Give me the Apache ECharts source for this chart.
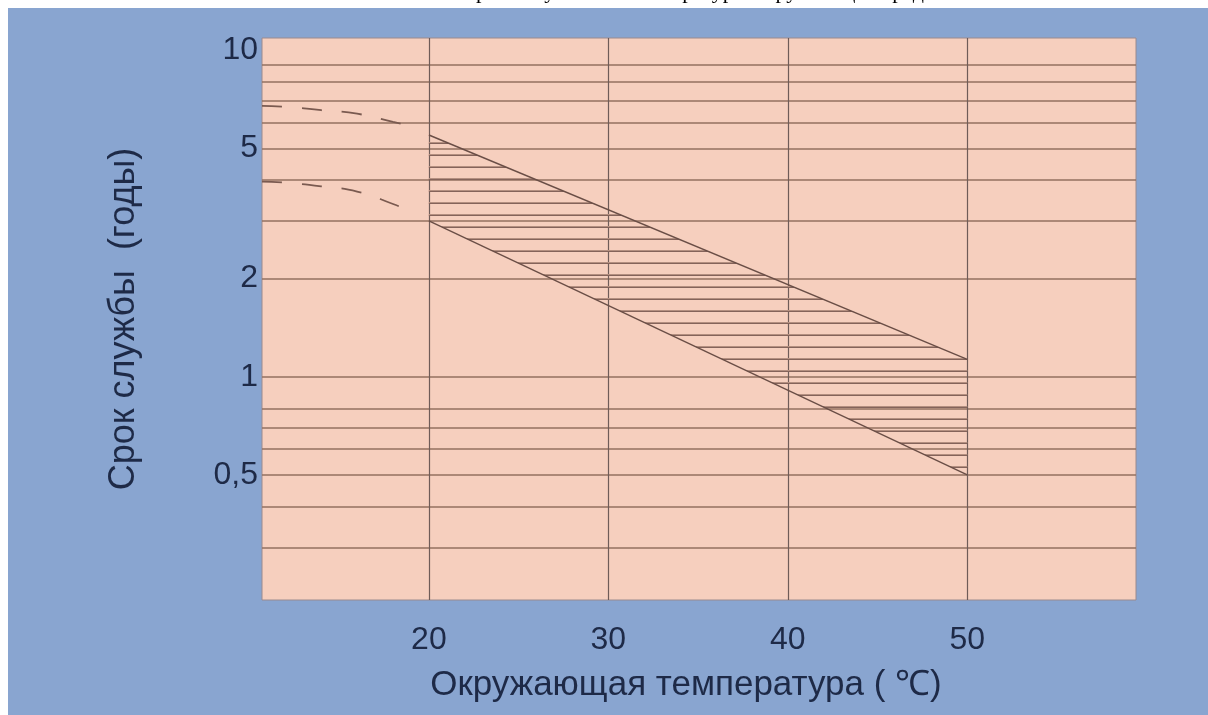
<!DOCTYPE html>
<html>
<head>
<meta charset="utf-8">
<title>Срок службы</title>
<script src="https://cdn.jsdelivr.net/npm/echarts@6/dist/echarts.min.js"></script>
<style>
html, body { margin: 0; padding: 0; width: 100%; height: 100%; background: #fff; }
#chart { width: 1208px; height: 715px; }
</style>
</head>
<body>
<div id="chart"></div>
<script>
// температура, °C
var xTicks = [20, 30, 40, 50];
// срок службы, годы
var yLabelValues = [0.5, 1, 2, 5, 10];
var yLabelTexts = ['0,5', '1', '2', '5', '10'];
var yGridValues = [0.3, 0.4, 0.5, 0.6, 0.7, 0.8, 1, 2, 3, 4, 5, 6, 7, 8, 9];

// границы заштрихованной полосы
var bandTemp = [20, 50];
var bandLower = [3.0, 0.5];
var bandUpper = [5.5, 1.13];

// пунктир ниже 20 °C
var dashUpperTemp = [10.7, 12, 14, 16, 18, 18.8];
var dashUpper = [6.75, 6.71, 6.55, 6.39, 6.03, 5.9];
var dashLowerTemp = [10.7, 12, 14, 16, 18, 18.9];
var dashLower = [3.96, 3.93, 3.83, 3.69, 3.38, 3.22];

var textColor = '#1e2a47';
var font = '"Liberation Sans", Arial, sans-serif';

function pairs(xs, ys) {
  return xs.map(function (x, i) { return [x, ys[i]]; });
}

// штриховка горизонтальными линиями
var hatch = document.createElement('canvas');
hatch.width = 8;
hatch.height = 12;
var hctx = hatch.getContext('2d');
hctx.fillStyle = '#b48f80';
hctx.fillRect(0, 10, 8, 1);
hctx.fillStyle = '#84635a';
hctx.fillRect(0, 11, 8, 1);

var chart = echarts.init(document.getElementById('chart'));

var option = {
  backgroundColor: '#89a5d0',
  animation: false,
  graphic: [
    { type: 'rect', left: 0, top: 0, z: 100, shape: { width: 1208, height: 8 }, style: { fill: '#ffffff' } },
    { type: 'rect', left: 0, top: 0, z: 100, shape: { width: 8, height: 715 }, style: { fill: '#ffffff' } },
    {
      type: 'text', x: 640, y: 3, z: 101,
      style: {
        text: 'Зависимость срока службы от температуры окружающей среды',
        fill: '#000', font: '22px "Liberation Serif", serif',
        align: 'center', verticalAlign: 'bottom'
      }
    }
  ],
  grid: {
    left: 262, right: 72, top: 38, bottom: 115,
    show: true,
    backgroundColor: '#f6cfbe',
    borderColor: '#9a8a8e',
    borderWidth: 1
  },
  xAxis: {
    type: 'value',
    min: 10.7,
    max: 59.4,
    axisLine: { show: false },
    axisTick: { show: true, length: 0, customValues: xTicks },
    axisLabel: {
      customValues: xTicks,
      margin: 24,
      fontSize: 32,
      fontFamily: font,
      color: textColor
    },
    splitLine: { show: true, lineStyle: { color: '#6f5c58', width: 1.2 } },
    name: 'Окружающая температура ( ℃)',
    nameLocation: 'middle',
    nameGap: 68,
    nameTextStyle: { fontSize: 35, fontFamily: font, color: textColor, padding: [0, 26, 0, 0] }
  },
  yAxis: {
    type: 'log',
    logBase: 10,
    min: 0.207,
    max: 10.9,
    axisLine: { show: false },
    axisTick: { show: true, length: 0, customValues: yGridValues },
    axisLabel: {
      customValues: yLabelValues,
      margin: 4,
      fontSize: 32,
      fontFamily: font,
      color: textColor,
      formatter: function (v) {
        var i = yLabelValues.indexOf(v);
        return i >= 0 ? yLabelTexts[i] : String(v);
      }
    },
    splitLine: { show: true, lineStyle: { color: '#93705f', width: 1.6 } },
    name: 'Срок службы  (годы)',
    nameLocation: 'middle',
    nameGap: 120,
    nameRotate: 90,
    nameTextStyle: { fontSize: 36, fontFamily: font, color: textColor }
  },
  series: [
    {
      name: 'штриховка',
      type: 'custom',
      clip: true,
      data: bandTemp.map(function (t, i) { return [t, bandLower[i], bandUpper[i]]; }),
      encode: { x: 0, y: [1, 2] },
      renderItem: function (params, api) {
        if (params.dataIndex !== 0) return;
        var pts = [
          api.coord([api.value(0, 0), api.value(2, 0)]),
          api.coord([api.value(0, 1), api.value(2, 1)]),
          api.coord([api.value(0, 1), api.value(1, 1)]),
          api.coord([api.value(0, 0), api.value(1, 0)])
        ];
        return {
          type: 'polygon',
          shape: { points: pts },
          style: { fill: { image: hatch, repeat: 'repeat' }, stroke: null }
        };
      }
    },
    {
      name: 'нижняя граница',
      type: 'line',
      symbol: 'none',
      data: pairs(bandTemp, bandLower),
      lineStyle: { color: '#6a4e46', width: 1.4 }
    },
    {
      name: 'верхняя граница',
      type: 'line',
      symbol: 'none',
      data: pairs(bandTemp, bandUpper),
      lineStyle: { color: '#6a4e46', width: 1.4 }
    },
    {
      name: 'верхний пунктир',
      type: 'line',
      smooth: true,
      symbol: 'none',
      data: pairs(dashUpperTemp, dashUpper),
      lineStyle: { color: '#7a5a50', width: 1.8, type: [20, 20] }
    },
    {
      name: 'нижний пунктир',
      type: 'line',
      smooth: true,
      symbol: 'none',
      data: pairs(dashLowerTemp, dashLower),
      lineStyle: { color: '#7a5a50', width: 1.8, type: [20, 20] }
    }
  ]
};

chart.setOption(option);
</script>
</body>
</html>
